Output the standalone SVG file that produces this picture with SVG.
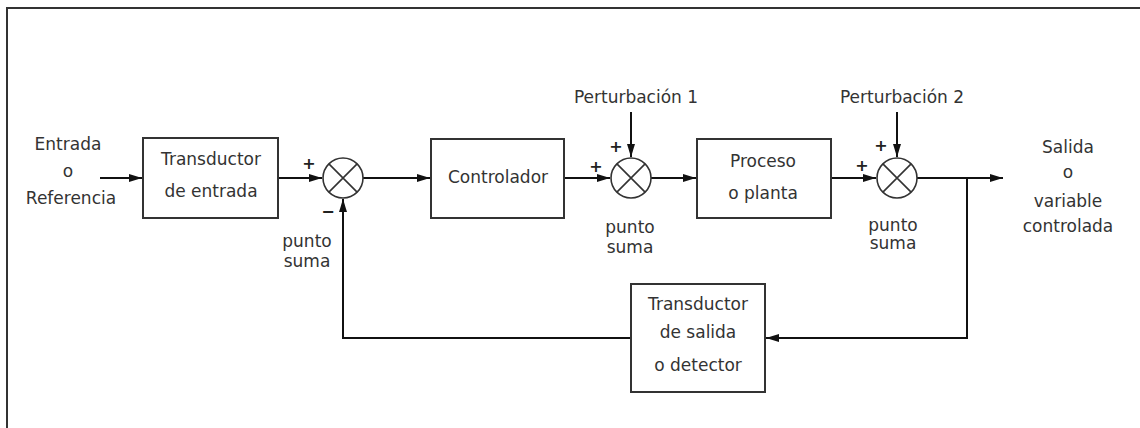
<svg xmlns="http://www.w3.org/2000/svg" width="1140" height="428" viewBox="0 0 1140 428">
<defs>
<marker id="arr" markerUnits="userSpaceOnUse" markerWidth="14" markerHeight="9" refX="13" refY="4" orient="auto">
<path d="M0,0 L13,4 L0,8 z" fill="#111"/>
</marker>
<style>
text{font-family:"DejaVu Sans","Liberation Sans",sans-serif;font-size:17px;fill:#333;text-anchor:middle}
text.s{font-size:16px;font-weight:bold;fill:#222}
.box{fill:#fff;stroke:#333;stroke-width:2}
.sum{fill:#fff;stroke:#333;stroke-width:1.6}
.x{stroke:#333;stroke-width:1.6}
.c{fill:none;stroke:#111;stroke-width:2}
.a{marker-end:url(#arr)}
</style>
</defs>
<rect width="1140" height="428" fill="#fff"/>
<path d="M7,428 L7,8 L1140,8" fill="none" stroke="#333" stroke-width="2"/>

<g id="connectors">
<path class="c a" d="M100,178 L142,178"/>
<path class="c a" d="M278,178 L322,178"/>
<path class="c a" d="M363,178 L430,178"/>
<path class="c a" d="M564,178 L610,178"/>
<path class="c a" d="M631,112 L631,157"/>
<path class="c a" d="M651,178 L696,178"/>
<path class="c a" d="M831,178 L876,178"/>
<path class="c a" d="M897,112 L897,157"/>
<path class="c a" d="M917,178 L1003,178"/>
<path class="c a" d="M967,178 L967,338 L766,338"/>
<path class="c a" d="M631,338 L343,338 L343,199"/>
</g>

<g id="input-label">
<text x="68" y="150">Entrada</text>
<text x="68" y="177">o</text>
<text x="71" y="204">Referencia</text>
</g>

<g id="transductor-entrada">
<rect class="box" x="143" y="138" width="135" height="80"/>
<text x="211" y="165">Transductor</text>
<text x="211" y="197">de entrada</text>
</g>

<g id="suma1">
<circle class="sum" cx="343" cy="178" r="20"/>
<path class="x" d="M328.9,163.9 L357.1,192.1 M357.1,163.9 L328.9,192.1"/>
<text class="s" x="309" y="169">+</text>
<text class="s" x="328" y="217">−</text>
<text x="307" y="247">punto</text>
<text x="307" y="267">suma</text>
</g>

<g id="controlador">
<rect class="box" x="431" y="139" width="133" height="79"/>
<text x="498" y="183">Controlador</text>
</g>

<g id="perturbacion1">
<text x="636" y="103">Perturbación 1</text>
</g>

<g id="suma2">
<circle class="sum" cx="631" cy="178" r="20"/>
<path class="x" d="M616.9,163.9 L645.1,192.1 M645.1,163.9 L616.9,192.1"/>
<text class="s" x="596" y="172">+</text>
<text class="s" x="616" y="152">+</text>
<text x="630" y="233">punto</text>
<text x="630" y="253">suma</text>
</g>

<g id="proceso">
<rect class="box" x="697" y="139" width="134" height="79"/>
<text x="763" y="167">Proceso</text>
<text x="763" y="199">o planta</text>
</g>

<g id="perturbacion2">
<text x="902" y="103">Perturbación 2</text>
</g>

<g id="suma3">
<circle class="sum" cx="897" cy="178" r="20"/>
<path class="x" d="M882.9,163.9 L911.1,192.1 M911.1,163.9 L882.9,192.1"/>
<text class="s" x="862" y="171">+</text>
<text class="s" x="881" y="151">+</text>
<text x="893" y="231">punto</text>
<text x="893" y="249">suma</text>
</g>

<g id="output-label">
<text x="1068" y="153">Salida</text>
<text x="1068" y="178">o</text>
<text x="1068" y="207">variable</text>
<text x="1068" y="232">controlada</text>
</g>

<g id="transductor-salida">
<rect class="box" x="631" y="284" width="134" height="108"/>
<text x="698" y="310">Transductor</text>
<text x="698" y="338">de salida</text>
<text x="698" y="371">o detector</text>
</g>
</svg>
